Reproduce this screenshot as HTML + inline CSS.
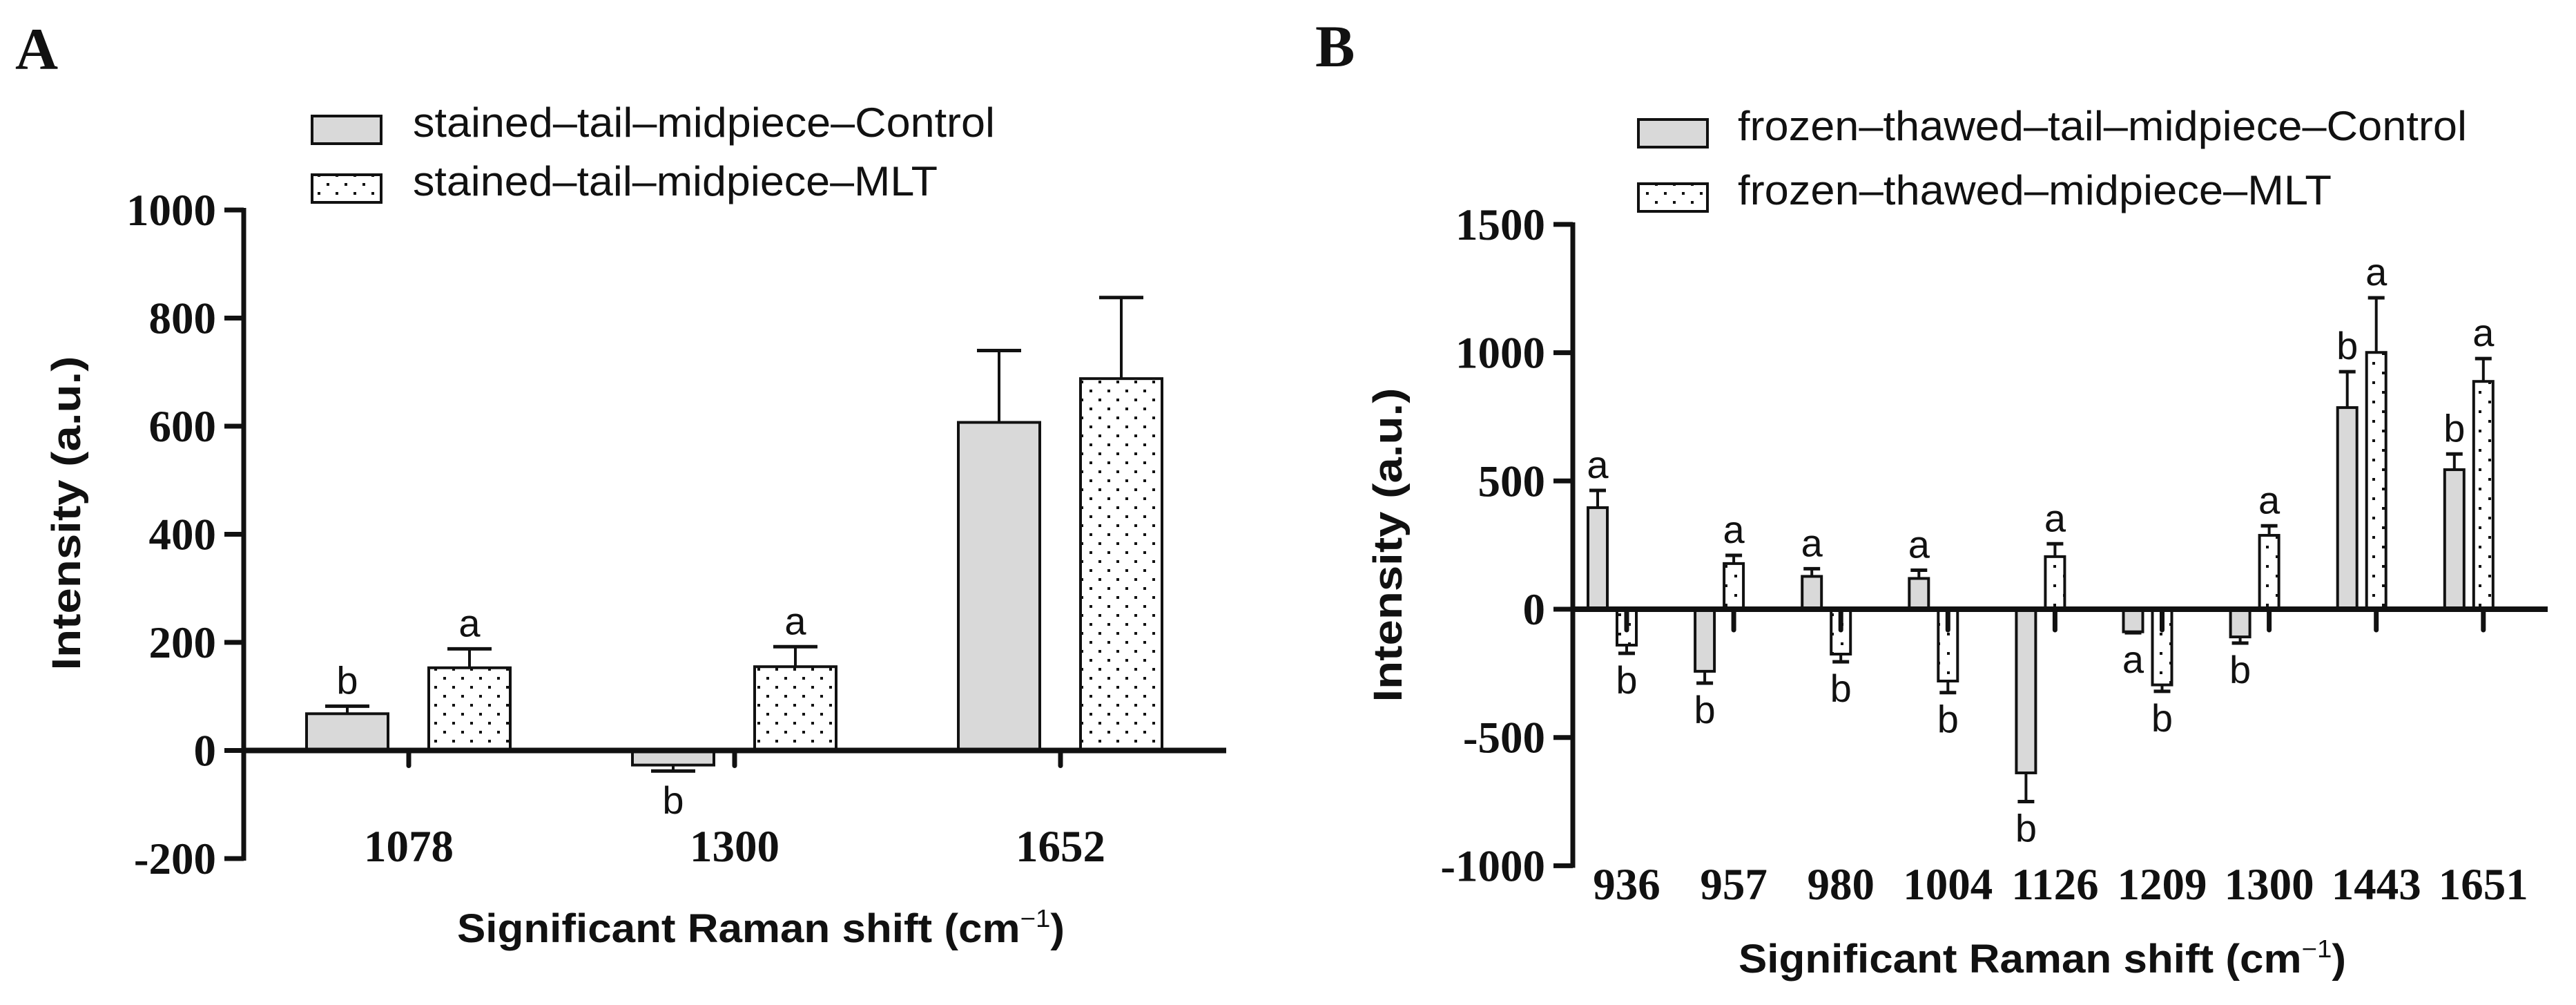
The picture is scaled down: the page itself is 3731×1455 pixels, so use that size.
<!DOCTYPE html>
<html><head><meta charset="utf-8">
<style>
html,body{margin:0;padding:0;background:#fff;}
svg{display:block;}
.tk{font-family:"Liberation Serif",serif;font-weight:bold;font-size:65px;fill:#111;}
.ti{font-family:"Liberation Sans",sans-serif;font-weight:bold;font-size:58px;fill:#111;}
.lg{font-family:"Liberation Sans",sans-serif;font-size:60px;fill:#111;}
.lt{font-family:"Liberation Sans",sans-serif;font-size:56px;fill:#111;}
.pl{font-family:"Liberation Serif",serif;font-weight:bold;font-size:86px;fill:#111;}
</style></head>
<body>
<svg id="fig" width="3731" height="1455" viewBox="0 0 3731 1455" xmlns="http://www.w3.org/2000/svg">
<defs>
<pattern id="dots" width="26" height="26" patternUnits="userSpaceOnUse">
<rect width="26" height="26" fill="#fff"/>
<rect x="5" y="5" width="4" height="4" fill="#111"/>
<rect x="18" y="18" width="4" height="4" fill="#111"/>
</pattern>
<pattern id="dotsB" width="28" height="28" patternUnits="userSpaceOnUse">
<rect width="28" height="28" fill="#fff"/>
<rect x="6" y="6" width="4" height="4" fill="#111"/>
<rect x="20" y="20" width="4" height="4" fill="#111"/>
</pattern>
</defs>
<text class="pl" x="22" y="100">A</text>
<text class="pl" x="1905" y="96">B</text>
<g id="A"></g>
<g id="B"></g>
</svg>
<script>
// ---- Panel A data ----
const catsA = ["1078", "1300", "1652"];
const ctrlA = [68, -27, 607];
const ctrlErrA = [82, -38, 740];
const mltA = [153, 155, 688];
const mltErrA = [188, 192, 838];
const ctrlLetA = ["b", "b", ""];
const mltLetA = ["a", "a", ""];
const ticksA = [-200, 0, 200, 400, 600, 800, 1000];

// ---- Panel B data ----
const catsB = ["936", "957", "980", "1004", "1126", "1209", "1300", "1443", "1651"];
const ctrlB = [396, -242, 128, 120, -638, -88, -108, 786, 544];
const ctrlErrB = [463, -288, 158, 152, -750, -92, -132, 926, 605];
const mltB = [-140, 178, -175, -280, 205, -295, 288, 1001, 888];
const mltErrB = [-172, 210, -205, -325, 255, -320, 325, 1214, 977];
const ctrlLetB = ["a", "b", "a", "a", "b", "a", "b", "b", "b"];
const mltLetB = ["b", "a", "b", "b", "a", "b", "a", "a", "a"];
const ticksB = [-1000, -500, 0, 500, 1000, 1500];

const NS = "http://www.w3.org/2000/svg";
function mk(parent, tag, attrs, txt) {
  const e = document.createElementNS(NS, tag);
  for (const k in attrs) e.setAttribute(k, attrs[k]);
  if (txt !== undefined) e.textContent = txt;
  parent.appendChild(e);
  return e;
}

function drawChart(cfg) {
  const g = document.getElementById(cfg.id);
  const y = v => cfg.y0 - v * cfg.ppu;
  const x = i => cfg.x0 + i * cfg.step;
  // legend
  const l1 = mk(g, "rect", {x: cfg.legX, y: cfg.legY1, width: cfg.legW, height: 40, fill: "#d9d9d9", stroke: "#111", "stroke-width": 4});
  
  
  const t1 = mk(g, "text", {class: "lg", x: cfg.legTx, y: cfg.legY1 + 30, textLength: cfg.legL1, lengthAdjust: "spacingAndGlyphs"}, cfg.leg1);
  
  
  const l2 = mk(g, "rect", {x: cfg.legX, y: cfg.legY2, width: cfg.legW, height: 40, fill: "url(#dots)", stroke: "#111", "stroke-width": 4});
  
  
  const t2 = mk(g, "text", {class: "lg", x: cfg.legTx, y: cfg.legY2 + 30, textLength: cfg.legL2, lengthAdjust: "spacingAndGlyphs"}, cfg.leg2);
  
  

  // bars
  const bars = [[cfg.ctrl, cfg.ctrlErr, cfg.ctrlLet, cfg.ctrlOff, "#d9d9d9", "control"],
                [cfg.mlt, cfg.mltErr, cfg.mltLet, cfg.mltOff, cfg.pat, "mlt"]];
  bars.forEach(([vals, errs, lets, off, fill, nm]) => {
    vals.forEach((v, i) => {
      const cx = x(i) + off;
      const top = Math.min(y(v), y(0)), h = Math.abs(y(v) - y(0));
      const b = mk(g, "rect", {x: cx - cfg.bw / 2, y: top, width: cfg.bw, height: h, fill: fill, stroke: "#111", "stroke-width": 4});
      
      
      const e = mk(g, "line", {x1: cx, x2: cx, y1: y(v), y2: y(errs[i]), stroke: "#111", "stroke-width": 4});
      
      
      mk(g, "line", {x1: cx - cfg.cap, x2: cx + cfg.cap, y1: y(errs[i]), y2: y(errs[i]), stroke: "#111", "stroke-width": 5});
      if (lets[i]) {
        const up = v >= 0;
        const ly = up ? y(errs[i]) - 18 : y(errs[i]) + cfg.letDown;
        const t = mk(g, "text", {class: "lt", x: cx, y: ly, "text-anchor": "middle", "font-size": cfg.letSize}, lets[i]);
        
        
      }
    });
  });

  // x axis
  const xa = mk(g, "line", {x1: cfg.axX, x2: cfg.axEnd, y1: y(0), y2: y(0), stroke: "#111", "stroke-width": 8});
  
  
  cfg.cats.forEach((c, i) => {
    mk(g, "line", {x1: x(i), x2: x(i), y1: y(0), y2: y(0) + cfg.tickLen, stroke: "#111", "stroke-width": 7, "stroke-linecap": "round"});
    const t = mk(g, "text", {class: "tk", x: x(i) + cfg.labOff, y: cfg.labY, "text-anchor": "middle"}, c);
    
    
  });
  // y axis
  const ya = mk(g, "line", {x1: cfg.axX, x2: cfg.axX, y1: y(cfg.ticks[cfg.ticks.length - 1]) - 3, y2: y(cfg.ticks[0]) + 3, stroke: "#111", "stroke-width": 7});
  
  
  cfg.ticks.forEach(v => {
    mk(g, "line", {x1: cfg.axX - 28, x2: cfg.axX, y1: y(v), y2: y(v), stroke: "#111", "stroke-width": 7});
    const t = mk(g, "text", {class: "tk", x: cfg.axX - 40, y: y(v) + 22, "text-anchor": "end"}, String(v));
    
    
  });
  const yt = mk(g, "text", {class: "ti", x: 0, y: 0, "text-anchor": "middle", transform: `translate(${cfg.ytX},${cfg.ytY}) rotate(-90)`, textLength: 455, lengthAdjust: "spacingAndGlyphs"}, "Intensity (a.u.)");
  
  
  const xt = mk(g, "text", {class: "ti", x: cfg.xtX, y: cfg.xtY, "text-anchor": "middle", textLength: 880, lengthAdjust: "spacingAndGlyphs"});
  
  
  xt.appendChild(document.createTextNode("Significant Raman shift (cm"));
  mk(xt, "tspan", {dy: -22, "font-size": 36, "font-weight": "normal"}, "\u22121");
  mk(xt, "tspan", {dy: 22}, ")");
}

drawChart({id: "A", cats: catsA, ctrl: ctrlA, ctrlErr: ctrlErrA, mlt: mltA, mltErr: mltErrA,
  ctrlLet: ctrlLetA, mltLet: mltLetA, ticks: ticksA,
  y0: 1086.5, ppu: 156.5 / 200, x0: 592, step: 472, ctrlOff: -89, mltOff: 88, bw: 118, cap: 32,
  axX: 353, axEnd: 1776, tickLen: 22, labOff: 0, labY: 1247, letSize: 60, letDown: 62,
  pat: "url(#dots)",
  legX: 452, legW: 100, legY1: 168, legY2: 253, legTx: 598, legL1: 843, legL2: 760,
  leg1: "stained\u2013tail\u2013midpiece\u2013Control", leg2: "stained\u2013tail\u2013midpiece\u2013MLT",
  ytX: 116, ytY: 743, xtX: 1102, xtY: 1364});

drawChart({id: "B", cats: catsB, ctrl: ctrlB, ctrlErr: ctrlErrB, mlt: mltB, mltErr: mltErrB,
  ctrlLet: ctrlLetB, mltLet: mltLetB, ticks: ticksB,
  y0: 882, ppu: 185.7 / 500, x0: 2356, step: 155.1, ctrlOff: -42, mltOff: 0, bw: 28, cap: 12,
  axX: 2278, axEnd: 3690, tickLen: 30, labOff: 0, labY: 1302, letSize: 56, letDown: 58,
  pat: "url(#dotsB)",
  legX: 2373, legW: 100, legY1: 173, legY2: 266, legTx: 2517, legL1: 1056, legL2: 860,
  leg1: "frozen\u2013thawed\u2013tail\u2013midpiece\u2013Control", leg2: "frozen\u2013thawed\u2013midpiece\u2013MLT",
  ytX: 2030, ytY: 789, xtX: 2958, xtY: 1408});
</script>
</body></html>
